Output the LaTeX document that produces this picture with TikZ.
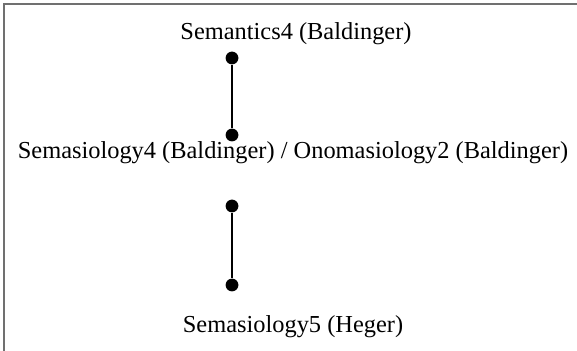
\documentclass[tikz,border=0pt]{standalone}
\usepackage{fontspec}
\setmainfont{Liberation Serif}
\usepackage{xcolor}
\usetikzlibrary{positioning}
\definecolor{framegray}{RGB}{112,112,112}

\begin{document}
\begin{tikzpicture}[x=0.5pt, y=-0.5pt,
  every node/.style={font=\fontsize{12.2}{14}\selectfont},
  label/.style={inner sep=0pt, anchor=center},
  dot/.style={circle, fill=black, minimum size=6.4pt, inner sep=0pt},
  link/.style={line width=0.9pt}
]
  \useasboundingbox[fill=white] (0,0) rectangle (577,351);
  \draw[framegray, line width=1pt] (4,351) -- (4,4) -- (577,4);

  \node[label] (sem4) at (296,34) {Semantics4 (Baldinger)};
  \node[label] (mid) at (293,153) {Semasiology4 (Baldinger) / Onomasiology2 (Baldinger)};
  \node[label] (sem5) at (293,327) {Semasiology5 (Heger)};

  \node[dot] (d1) at (232,58) {};
  \node[dot] (d2) at (232,135) {};
  \node[dot] (d3) at (232,206) {};
  \node[dot] (d4) at (232,285) {};

  \draw[link] (d1) -- (d2);
  \draw[link] (d3) -- (d4);
\end{tikzpicture}
\end{document}
